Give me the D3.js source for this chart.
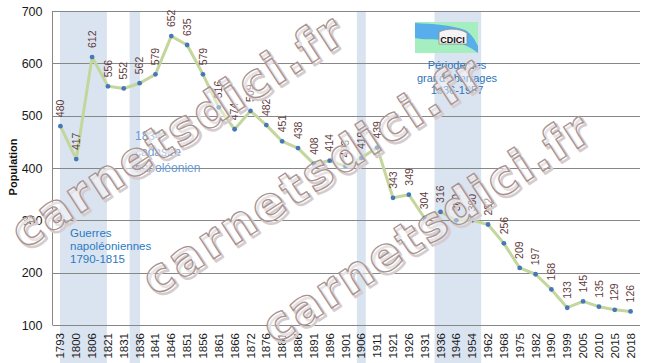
<!DOCTYPE html>
<html>
<head>
<meta charset="utf-8">
<script src="https://cdn.jsdelivr.net/npm/d3@7"></script>
<style>
  body { margin: 0; background: #fff; }
  svg { display: block; font-family: "Liberation Sans", Arial, sans-serif; }
</style>
</head>
<body>
<svg></svg>
<script>
// census years (categorical axis) and population
var years = ["1793", "1800", "1806", "1821", "1831", "1836", "1841", "1846", "1851", "1856",
  "1861", "1866", "1872", "1876", "1881", "1886", "1891", "1896", "1901", "1906",
  "1911", "1921", "1926", "1931", "1936", "1946", "1954", "1962", "1968", "1975",
  "1982", "1990", "1999", "2005", "2010", "2015", "2018"];
var population = [480, 417, 612, 556, 552, 562, 579, 652, 635, 579,
  516, 474, 509, 482, 451, 438, 408, 414, 403, 419,
  439, 343, 349, 304, 316, 300, 300, 292, 256, 209,
  197, 168, 133, 145, 135, 129, 126];
var yTicks = [100, 200, 300, 400, 500, 600, 700];

// shaded periods (from category, to category)
var periods = [["1793", "1821"], ["1836", "1836"], ["1906", "1906"], ["1936", "1954"]];
var periodPad = [[-0.4, -1], [-10, 0.5], [-4.5, 4.5], [-6, 9]];

var notes = [
  { lines: ["Guerres", "napoléoniennes", "1790-1815"], color: "#2a7ac2", size: 11.5, lh: 12.8 },
  { lines: ["1834", "cadastre", "napoléonien"], color: "#6a9bd2", size: 12, lh: 16 },
  { lines: ["Période des", "grands barrages", "1936-1957"], color: "#2d74b8", size: 11, lh: 12.7 }
];
var watermark = "carnetsdici.fr";

var width = 650, height = 363;
var margin = { top: 11, right: 11.5, bottom: 38, left: 52.5 };

var svg = d3.select("svg").attr("width", width).attr("height", height);

var x = d3.scaleBand()
    .domain(years)
    .range([margin.left, width - margin.right]);
var y = d3.scaleLinear()
    .domain([100, 700])
    .range([height - margin.bottom, margin.top]);

function cx(d) { return x(d) + x.bandwidth() / 2; }

// period bands (they run down through the tick labels)
svg.append("g").selectAll("rect")
    .data(periods)
    .join("rect")
    .attr("x", function(d, i) { return cx(d[0]) + periodPad[i][0]; })
    .attr("width", function(d, i) { return cx(d[1]) + periodPad[i][1] - cx(d[0]) - periodPad[i][0]; })
    .attr("y", y(700) + 1)
    .attr("height", height - y(700))
    .attr("fill", "#dae4f1");

// gridlines
svg.append("g").selectAll("line")
    .data(yTicks)
    .join("line")
    .attr("x1", margin.left)
    .attr("x2", width - 10)
    .attr("y1", function(d) { return Math.round(y(d)) + 0.5; })
    .attr("y2", function(d) { return Math.round(y(d)) + 0.5; })
    .style("stroke", "#878787")
    .style("stroke-width", 1);

svg.append("line")
    .attr("x1", margin.left).attr("x2", margin.left)
    .attr("y1", y(700)).attr("y2", y(100))
    .style("stroke", "#878787");

// y axis
var yAxis = svg.append("g")
    .attr("transform", "translate(" + margin.left + ",0)")
    .call(d3.axisLeft(y).tickValues(yTicks).tickSize(0).tickPadding(10));
yAxis.select(".domain").remove();
yAxis.selectAll("text")
    .style("font-size", "12.5px")
    .style("fill", "#1a1a1a");

svg.append("text")
    .attr("transform", "translate(17," + 167 + ") rotate(-90)")
    .attr("text-anchor", "middle")
    .style("font-size", "11px")
    .style("font-weight", "bold")
    .style("fill", "#111")
    .text("Population");

// x axis
var xAxis = svg.append("g")
    .attr("transform", "translate(0," + y(100) + ")")
    .call(d3.axisBottom(x).tickSize(0).tickPadding(0));
xAxis.select(".domain").remove();
xAxis.selectAll("text")
    .attr("transform", "rotate(-90)")
    .attr("x", -8)
    .attr("y", 0)
    .attr("dy", "0.35em")
    .attr("text-anchor", "end")
    .style("font-size", "11.5px")
    .style("fill", "#1a1a1a");

// line + markers
var line = d3.line()
    .x(function(d, i) { return cx(years[i]); })
    .y(function(d) { return y(d); });

svg.append("path")
    .datum(population)
    .attr("d", line)
    .style("fill", "none")
    .style("stroke", "#c3d69b")
    .style("stroke-width", 3)
    .style("stroke-linejoin", "round");

svg.append("g").selectAll("circle")
    .data(population)
    .join("circle")
    .attr("cx", function(d, i) { return cx(years[i]); })
    .attr("cy", function(d) { return y(d); })
    .attr("r", 2.4)
    .style("fill", "#4677b8");

svg.append("g").selectAll("text")
    .data(population)
    .join("text")
    .attr("transform", function(d, i) {
        return "translate(" + cx(years[i]) + "," + (y(d) - 9) + ") rotate(-90)";
    })
    .attr("dy", "0.35em")
    .attr("text-anchor", "start")
    .style("font-size", "10.5px")
    .style("fill", "#5e3b3b")
    .text(function(d) { return d; });

// annotations
var notePos = [
  { x: 70, y: 237, anchor: "start" },
  { x: 135, y: 140, anchor: "start" },
  { x: 457, y: 69, anchor: "middle" }
];
notes.forEach(function(n, k) {
    var t = svg.append("text")
        .attr("x", notePos[k].x)
        .attr("y", notePos[k].y)
        .attr("text-anchor", notePos[k].anchor)
        .style("font-size", n.size + "px")
        .style("fill", n.color);
    n.lines.forEach(function(s, j) {
        t.append("tspan")
            .attr("x", notePos[k].x)
            .attr("dy", j === 0 ? 0 : n.lh)
            .text(s);
    });
});

// CDICI logo
var logo = svg.append("g").attr("transform", "translate(415,22)");
logo.append("rect").attr("width", 63).attr("height", 31).attr("fill", "#a4eec0");
logo.append("path")
    .attr("d", "M0,1 C18,2 36,3 50,8 C56,11 60,18 63,24 L63,31 C55,25 44,19 30,18 C18,17 8,18 0,16 Z")
    .attr("fill", "#58aeea");
logo.append("path")
    .attr("d", "M24,22 L24,10 C32,6 44,6 52,11 L52,22 Z")
    .attr("fill", "#f4f4f4")
    .attr("stroke", "#8a8a8a")
    .attr("stroke-width", 0.8);
logo.append("text")
    .attr("x", 37.5).attr("y", 21)
    .attr("text-anchor", "middle")
    .style("font-size", "9px")
    .style("font-weight", "bold")
    .style("fill", "#111")
    .text("CDICI");

// watermark
var marks = [[24, 250, 385], [155, 297, 395], [275, 345, 380]];
marks.forEach(function(p) {
    [[2.5, 2.5, "#d6cccc", 2.5, 0], [0, 0, "#a89393", 1.3, 0.45]].forEach(function(s) {
        svg.append("text")
            .attr("transform", "translate(" + (p[0] + s[0]) + "," + (p[1] + s[1]) + ") rotate(-33)")
            .attr("textLength", p[2])
            .style("font-family", "'DejaVu Sans', sans-serif")
            .style("font-size", "47px")
            .style("font-weight", "bold")
            .style("fill", "#fff")
            .style("fill-opacity", s[4])
            .style("stroke", s[2])
            .style("stroke-width", s[3])
            .style("stroke-linejoin", "round")
            .text(watermark);
    });
});
</script>
</body>
</html>
